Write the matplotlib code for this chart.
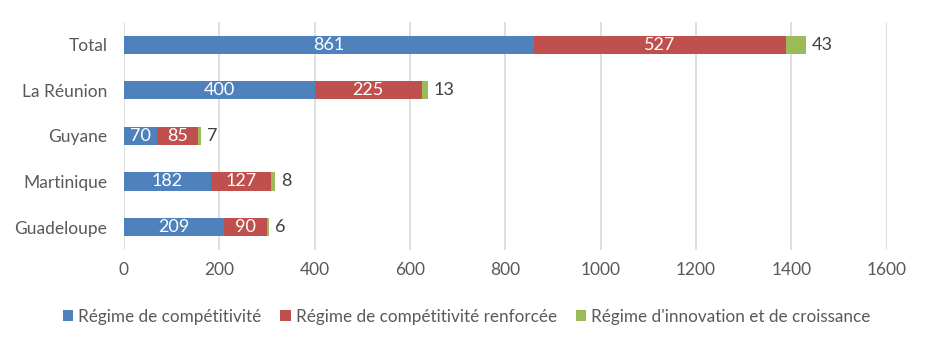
import matplotlib.pyplot as plt
import numpy as np

plt.rcParams['font.family'] = ['Lato', 'DejaVu Sans']

# données
regions = ['Guadeloupe', 'Martinique', 'Guyane', 'La Réunion', 'Total']
competitivite = [209, 182, 70, 400, 861]
renforcee = [90, 127, 85, 225, 527]
innovation = [6, 8, 7, 13, 43]
series_names = ['Régime de compétitivité',
                'Régime de compétitivité renforcée',
                "Régime d'innovation et de croissance"]
colors = ['#4F81BD', '#C0504D', '#9BBB59']
xticks = [0, 200, 400, 600, 800, 1000, 1200, 1400, 1600]

fig = plt.figure(figsize=(9.28, 3.47), dpi=100)
ax = fig.add_axes([0.1336, 0.28, 0.822, 0.657])

y = np.arange(len(regions))
a = np.array(competitivite)
b = np.array(renforcee)
c = np.array(innovation)

h = 0.4
ax.barh(y, a, height=h, color=colors[0], label=series_names[0], zorder=3)
ax.barh(y, b, left=a, height=h, color=colors[1], label=series_names[1], zorder=3)
ax.barh(y, c, left=a + b, height=h, color=colors[2], label=series_names[2], zorder=3)

# étiquettes
for i in range(len(regions)):
    ax.text(a[i] / 2, y[i], str(a[i]), ha='center', va='center',
            color='white', fontsize=13, zorder=4)
    ax.text(a[i] + b[i] / 2, y[i], str(b[i]), ha='center', va='center',
            color='white', fontsize=13, zorder=4)
    ax.text(a[i] + b[i] + c[i] + 12, y[i], str(c[i]), ha='left', va='center',
            color='#404040', fontsize=13, zorder=4)

ax.set_xlim(0, 1600)
ax.set_ylim(-0.5, len(regions) - 0.5)
ax.set_xticks(xticks)
ax.set_yticks(y)
ax.set_yticklabels(regions)
ax.tick_params(axis='both', length=0, labelsize=12.5, labelcolor='#595959')
ax.tick_params(axis='x', pad=9)
ax.tick_params(axis='y', pad=12)
ax.grid(axis='x', color='#D9D9D9', linewidth=1.2, zorder=0)
for s in ax.spines.values():
    s.set_visible(False)

leg = fig.legend(loc='lower center', bbox_to_anchor=(0.503, 0.02), ncol=3,
                 frameon=False, fontsize=12.3, handlelength=0.6, handleheight=0.6,
                 handletextpad=0.3, columnspacing=1.1)
for t in leg.get_texts():
    t.set_color('#595959')

plt.savefig('out.png', dpi=100)
